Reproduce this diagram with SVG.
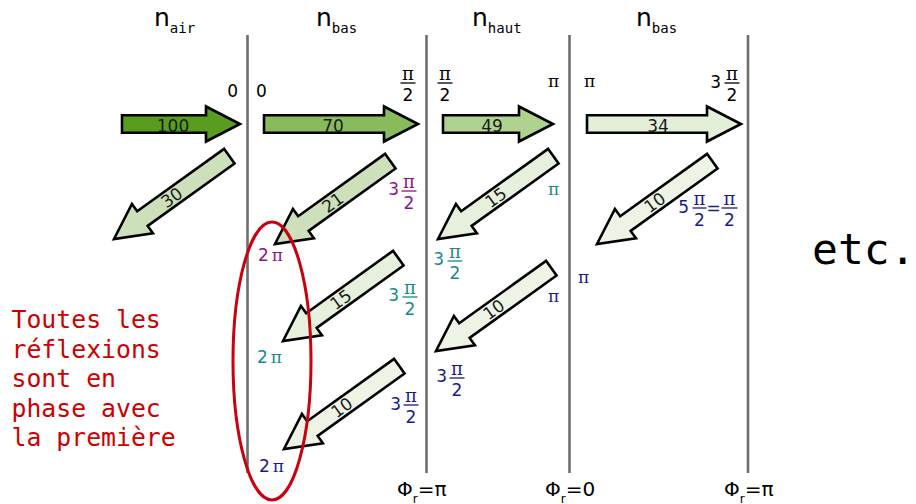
<svg xmlns="http://www.w3.org/2000/svg" xmlns:xlink="http://www.w3.org/1999/xlink" width="916" height="504" viewBox="0 0 916 504">
<defs>
<style>
.bound{stroke:#6e6e6e;stroke-width:2.6;fill:none}
.arr{stroke:#000;stroke-width:2.6;stroke-linejoin:miter}
.a1{fill:#5a9c1f}.a2{fill:#89bb5c}.a3{fill:#afd291}.a4{fill:#e3efd8}
.dm{fill:#cde0bb}.dl{fill:#e6f0dc}.dx{fill:#edf4e6}
.alab{font-family:"DejaVu Sans",sans-serif;font-size:17px;fill:#1a1a1a;text-anchor:middle}
.num{font-family:"DejaVu Sans",sans-serif;font-size:17px}
.two{font-family:"DejaVu Sans",sans-serif;font-size:17px;text-anchor:middle}
.pi{font-family:"DejaVu Serif",serif;font-size:18px;text-anchor:middle}
.pis{font-family:"DejaVu Serif",serif;font-size:17px}
.nl{font-family:"DejaVu Sans",sans-serif;font-size:25px}
.sub{font-family:"DejaVu Sans Mono",monospace;font-size:14px}
.phi{font-family:"DejaVu Sans",sans-serif;font-size:20px}
.k{fill:#000}.pu{fill:#8c148c}.te{fill:#178a8a}.nv{fill:#1a1a8c}
.bar{stroke-width:1.3}
</style>
<path id="darr" d="M-142,-9 H-35 V-18 L0,0 L-35,18 V9 H-142 Z"/>
</defs>
<rect width="916" height="504" fill="#fff"/>

<g id="interfaces">
<line class="bound" x1="247.5" y1="35" x2="247.5" y2="473"/>
<line class="bound" x1="426.5" y1="35" x2="426.5" y2="473"/>
<line class="bound" x1="569.5" y1="35" x2="569.5" y2="473"/>
<line class="bound" x1="748" y1="35" x2="748" y2="473"/>
</g>

<g id="media-labels" class="k">
<text class="nl" x="154" y="26">n<tspan class="sub" dy="7">air</tspan></text>
<text class="nl" x="316" y="26">n<tspan class="sub" dy="7">bas</tspan></text>
<text class="nl" x="472" y="26">n<tspan class="sub" dy="7">haut</tspan></text>
<text class="nl" x="636" y="26">n<tspan class="sub" dy="7">bas</tspan></text>
</g>

<g id="connectors">
<g id="t100"><path class="arr a1" d="M122,115.25 H206 V106.5 L240,124 L206,141.5 V132.75 H122 Z"/><text class="alab" x="173" y="131.5">100</text></g>
<g id="t70"><path class="arr a2" d="M264,115.25 H384 V106.5 L418,124 L384,141.5 V132.75 H264 Z"/><text class="alab" x="333" y="131.5">70</text></g>
<g id="t49"><path class="arr a3" d="M443,115.25 H519 V106.5 L553,124 L519,141.5 V132.75 H443 Z"/><text class="alab" x="492" y="131.5">49</text></g>
<g id="t34"><path class="arr a4" d="M587,115.25 H707 V106.5 L741,124 L707,141.5 V132.75 H587 Z"/><text class="alab" x="658" y="131.5">34</text></g>

<g id="r30" transform="translate(114,239) rotate(144.3)"><use xlink:href="#darr" class="arr dm"/><text class="alab" transform="translate(-71,0) rotate(180)" dy="0.36em">30</text></g>
<g id="r21" transform="translate(275,244) rotate(144.3)"><use xlink:href="#darr" class="arr dm"/><text class="alab" transform="translate(-71,0) rotate(180)" dy="0.36em">21</text></g>
<g id="r15a" transform="translate(438,239) rotate(144.3)"><use xlink:href="#darr" class="arr dl"/><text class="alab" transform="translate(-71,0) rotate(180)" dy="0.36em">15</text></g>
<g id="r10a" transform="translate(597,244) rotate(144.3)"><use xlink:href="#darr" class="arr dx"/><text class="alab" transform="translate(-71,0) rotate(180)" dy="0.36em">10</text></g>
<g id="r15b" transform="translate(283,341) rotate(144.3)"><use xlink:href="#darr" class="arr dl"/><text class="alab" transform="translate(-71,0) rotate(180)" dy="0.36em">15</text></g>
<g id="r10b" transform="translate(436,351) rotate(144.3)"><use xlink:href="#darr" class="arr dx"/><text class="alab" transform="translate(-71,0) rotate(180)" dy="0.36em">10</text></g>
<g id="r10c" transform="translate(284,449) rotate(144.3)"><use xlink:href="#darr" class="arr dx"/><text class="alab" transform="translate(-71,0) rotate(180)" dy="0.36em">10</text></g>
</g>

<g id="phases-top" class="k">
<text class="num" x="238" y="97" text-anchor="end">0</text>
<text class="num" x="256" y="97">0</text>
<g><text class="pi" x="408" y="80">π</text><line class="bar" stroke="#000" x1="400.5" y1="83" x2="415.5" y2="83"/><text class="two" x="408" y="101">2</text></g>
<g><text class="pi" x="445" y="80">π</text><line class="bar" stroke="#000" x1="437.5" y1="83" x2="452.5" y2="83"/><text class="two" x="445" y="101">2</text></g>
<text class="pis" x="548" y="87">π</text>
<text class="pis" x="584" y="87">π</text>
<g><text class="num" x="721" y="88" text-anchor="end">3</text><text class="pi" x="732" y="80">π</text><line class="bar" stroke="#000" x1="724.5" y1="83" x2="739.5" y2="83"/><text class="two" x="732" y="101">2</text></g>
</g>

<g id="phases-purple" class="pu">
<text class="num" x="399" y="195" text-anchor="end">3</text><text class="pi" x="409" y="188">π</text><line class="bar" stroke="#8c148c" x1="401.5" y1="191" x2="416.5" y2="191"/><text class="two" x="409" y="209">2</text>
<text class="num" x="258" y="261">2<tspan class="pis" dx="3" font-size="18">π</tspan></text>
</g>

<g id="phases-teal" class="te">
<text class="pis" x="548" y="195">π</text>
<text class="num" x="444" y="265" text-anchor="end">3</text><text class="pi" x="455" y="258">π</text><line class="bar" stroke="#178a8a" x1="447.5" y1="261" x2="462.5" y2="261"/><text class="two" x="455" y="279">2</text>
<text class="num" x="399" y="301" text-anchor="end">3</text><text class="pi" x="410" y="294">π</text><line class="bar" stroke="#178a8a" x1="402.5" y1="297" x2="417.5" y2="297"/><text class="two" x="410" y="315">2</text>
<text class="num" x="257" y="363">2<tspan class="pis" dx="3" font-size="18">π</tspan></text>
</g>

<g id="phases-navy" class="nv">
<text class="num" x="689" y="213" text-anchor="end">5</text><text class="pi" x="699.5" y="205">π</text><line class="bar" stroke="#1a1a8c" x1="692.5" y1="208" x2="706.5" y2="208"/><text class="two" x="699.5" y="226">2</text>
<text class="num" x="713.5" y="214" text-anchor="middle">=</text>
<text class="pi" x="729.5" y="205">π</text><line class="bar" stroke="#1a1a8c" x1="721.5" y1="208" x2="737.5" y2="208"/><text class="two" x="729.5" y="226">2</text>
<text class="pis" x="578" y="283">π</text>
<text class="pis" x="548" y="302">π</text>
<text class="num" x="447" y="382" text-anchor="end">3</text><text class="pi" x="457" y="375">π</text><line class="bar" stroke="#1a1a8c" x1="449.5" y1="378" x2="464.5" y2="378"/><text class="two" x="457" y="396">2</text>
<text class="num" x="401" y="410" text-anchor="end">3</text><text class="pi" x="411" y="402">π</text><line class="bar" stroke="#1a1a8c" x1="403.5" y1="405" x2="418.5" y2="405"/><text class="two" x="411" y="423">2</text>
<text class="num" x="259" y="472">2<tspan class="pis" dx="3" font-size="18">π</tspan></text>
</g>

<g id="phase-shifts" class="k">
<text class="phi" x="397" y="496">Φ<tspan font-size="12" dy="6.5">r</tspan><tspan dy="-6.5">=π</tspan></text>
<text class="phi" x="545" y="496">Φ<tspan font-size="12" dy="6.5">r</tspan><tspan dy="-6.5">=0</tspan></text>
<text class="phi" x="724" y="496">Φ<tspan font-size="12" dy="6.5">r</tspan><tspan dy="-6.5">=π</tspan></text>
</g>

<g id="highlight">
<ellipse cx="272" cy="361" rx="39" ry="139" fill="none" stroke="#c8000f" stroke-width="3"/>
<text font-family="'DejaVu Sans Mono',monospace" font-size="24.8" fill="#cc0000" x="11.5">
<tspan x="11.5" y="328">Toutes les</tspan>
<tspan x="11.5" y="357.5">réflexions</tspan>
<tspan x="11.5" y="387">sont en</tspan>
<tspan x="11.5" y="416.5">phase avec</tspan>
<tspan x="11.5" y="446">la première</tspan>
</text>
</g>

<text id="etc" font-family="'DejaVu Sans Mono',monospace" font-size="43" fill="#000" x="812" y="264">etc.</text>
</svg>
